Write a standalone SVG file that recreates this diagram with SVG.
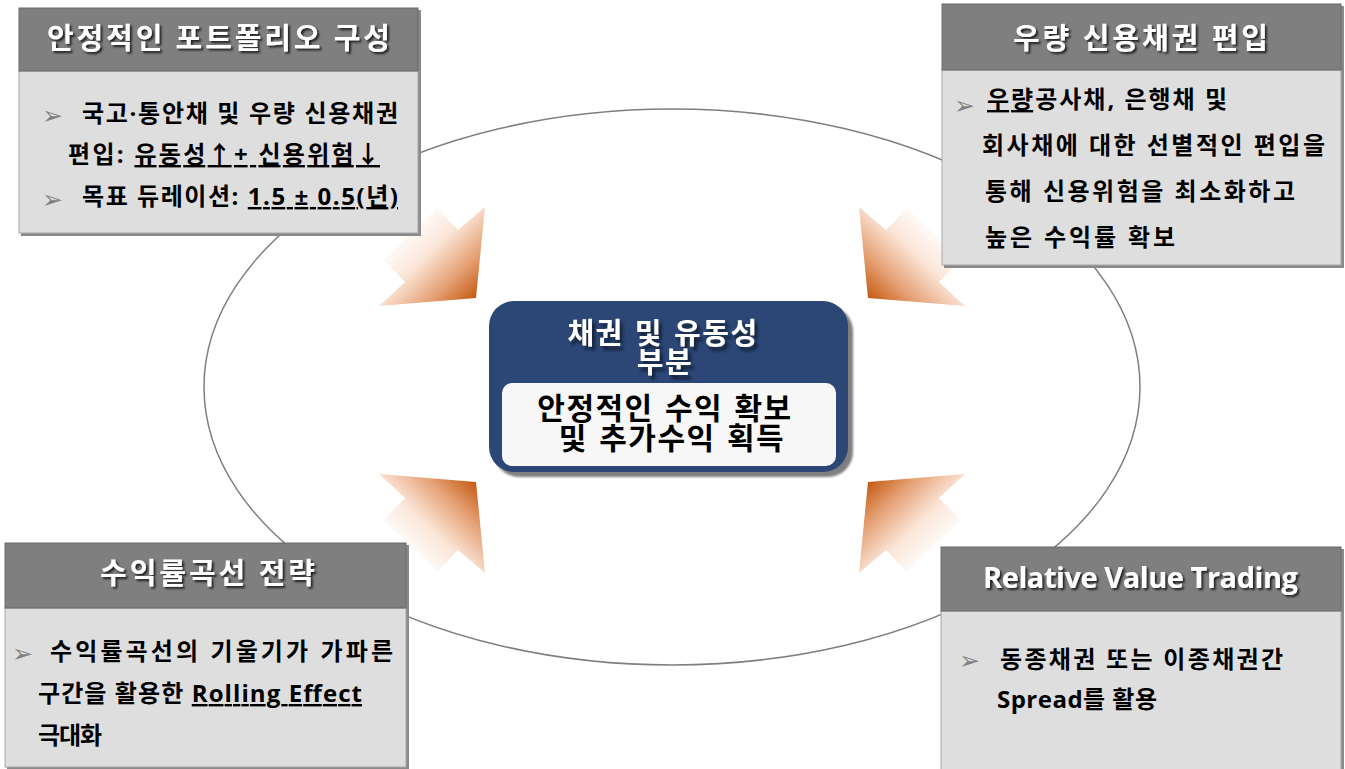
<svg xmlns="http://www.w3.org/2000/svg" width="1345" height="769" viewBox="0 0 1345 769">
<defs>
<style>
.shadow{fill:#8a8a8a}
.hdr{fill:#7f7f7f;stroke:#6a6a6a;stroke-width:1}
.body{fill:#dedede;stroke:#a8a8a8;stroke-width:1}
.htxt{font-family:"Open Sans","Noto Sans CJK KR",sans-serif;font-weight:bold;font-size:29px;fill:#ffffff;text-anchor:middle;filter:url(#ts)}
.btxt{font-family:"Open Sans","Noto Sans CJK KR",sans-serif;font-weight:bold;font-size:24px;fill:#000000}
.bul{font-family:"DejaVu Sans",sans-serif;font-size:25px;fill:#808080}
.u{text-decoration:underline}
.ctitle{font-family:"Noto Sans CJK KR",sans-serif;font-weight:bold;font-size:29px;letter-spacing:1.5px;word-spacing:3px;fill:#ffffff;text-anchor:middle;filter:url(#cs)}
.cinner{font-family:"Noto Sans CJK KR",sans-serif;font-weight:bold;font-size:30px;letter-spacing:1.5px;word-spacing:3px;fill:#000000;text-anchor:middle}
</style>
<filter id="ts" x="-10%" y="-30%" width="120%" height="160%">
<feDropShadow dx="2" dy="2" stdDeviation="1" flood-color="#000000" flood-opacity="0.75"/>
</filter>
<filter id="cs" x="-10%" y="-30%" width="130%" height="180%">
<feDropShadow dx="3" dy="4" stdDeviation="1.5" flood-color="#0d1a33" flood-opacity="0.9"/>
</filter>
<filter id="bs" x="-5%" y="-5%" width="115%" height="115%">
<feGaussianBlur stdDeviation="1.2"/>
</filter>
<linearGradient id="gTL" gradientUnits="userSpaceOnUse" x1="476" y1="298" x2="406" y2="226">
<stop offset="0" stop-color="#c55a11"/><stop offset="0.3" stop-color="#e5a075"/><stop offset="0.65" stop-color="#fbe6d8"/><stop offset="1" stop-color="#ffffff"/>
</linearGradient>
<linearGradient id="gTR" gradientUnits="userSpaceOnUse" x1="868" y1="298" x2="938" y2="226">
<stop offset="0" stop-color="#c55a11"/><stop offset="0.3" stop-color="#e5a075"/><stop offset="0.65" stop-color="#fbe6d8"/><stop offset="1" stop-color="#ffffff"/>
</linearGradient>
<linearGradient id="gBL" gradientUnits="userSpaceOnUse" x1="476" y1="482" x2="406" y2="554">
<stop offset="0" stop-color="#c55a11"/><stop offset="0.3" stop-color="#e5a075"/><stop offset="0.65" stop-color="#fbe6d8"/><stop offset="1" stop-color="#ffffff"/>
</linearGradient>
<linearGradient id="gBR" gradientUnits="userSpaceOnUse" x1="868" y1="482" x2="938" y2="554">
<stop offset="0" stop-color="#c55a11"/><stop offset="0.3" stop-color="#e5a075"/><stop offset="0.65" stop-color="#fbe6d8"/><stop offset="1" stop-color="#ffffff"/>
</linearGradient>
</defs>
<rect width="1345" height="769" fill="#ffffff"/>

<g id="ring">
<ellipse cx="672" cy="387" rx="468" ry="278" fill="none" stroke="#7f7f7f" stroke-width="1.5"/>
</g>

<g id="connectors">
<polygon fill="url(#gTL)" points="476,298 485,207 458,230 437,208 384,260 405,282 379,306"/>
<polygon fill="url(#gTR)" points="868,298 859,207 886,230 907,208 960,260 939,282 965,306"/>
<polygon fill="url(#gBL)" points="476,482 485,573 458,550 437,572 384,520 405,498 379,474"/>
<polygon fill="url(#gBR)" points="868,482 859,573 886,550 907,572 960,520 939,498 965,474"/>
</g>

<g id="node-portfolio">
<rect class="shadow" x="21" y="10" width="400" height="226"/>
<rect class="body" x="19" y="71" width="399" height="162"/>
<rect class="hdr" x="19" y="8" width="399" height="63"/>
<text class="htxt" x="218.5" y="49" textLength="343" lengthAdjust="spacing">안정적인 포트폴리오 구성</text>
<text class="bul" x="42" y="124">➢</text>
<text class="btxt" x="82" y="122" textLength="316" lengthAdjust="spacing">국고·통안채 및 우량 신용채권</text>
<text class="btxt" x="68" y="163" textLength="312" lengthAdjust="spacing">편입: <tspan class="u">유동성↑+ 신용위험↓</tspan></text>
<text class="bul" x="42" y="208">➢</text>
<text class="btxt" x="82" y="205" textLength="316" lengthAdjust="spacing">목표 듀레이션: <tspan class="u">1.5 ± 0.5(년)</tspan></text>
</g>

<g id="node-credit">
<rect class="shadow" x="944" y="6" width="400" height="262"/>
<rect class="body" x="942" y="70" width="399" height="195"/>
<rect class="hdr" x="942" y="4" width="399" height="66"/>
<text class="htxt" x="1140.5" y="49" textLength="255" lengthAdjust="spacing">우량 신용채권 편입</text>
<text class="bul" x="954" y="114">➢</text>
<text class="btxt" x="987" y="108" textLength="240" lengthAdjust="spacing"><tspan class="u">우량</tspan>공사채, 은행채 및</text>
<text class="btxt" x="982" y="154" textLength="343" lengthAdjust="spacing">회사채에 대한 선별적인 편입을</text>
<text class="btxt" x="985" y="200" textLength="310" lengthAdjust="spacing">통해 신용위험을 최소화하고</text>
<text class="btxt" x="985" y="246" textLength="190" lengthAdjust="spacing">높은 수익률 확보</text>
</g>

<g id="node-yieldcurve">
<rect class="shadow" x="7" y="545" width="402" height="226"/>
<rect class="body" x="5" y="608" width="401" height="159"/>
<rect class="hdr" x="5" y="543" width="401" height="65"/>
<text class="htxt" x="207.5" y="584" textLength="215" lengthAdjust="spacing">수익률곡선 전략</text>
<text class="bul" x="12" y="662">➢</text>
<text class="btxt" x="50" y="660" textLength="343" lengthAdjust="spacing">수익률곡선의 기울기가 가파른</text>
<text class="btxt" x="38" y="702" textLength="324" lengthAdjust="spacing">구간을 활용한 <tspan class="u">Rolling Effect</tspan></text>
<text class="btxt" x="38" y="744" textLength="64" lengthAdjust="spacing">극대화</text>
</g>

<g id="node-rvt">
<rect class="shadow" x="943" y="549" width="401" height="230"/>
<rect class="body" x="941" y="611" width="400" height="170"/>
<rect class="hdr" x="941" y="547" width="400" height="64"/>
<text class="htxt" x="1140.5" y="588" textLength="315" lengthAdjust="spacing">Relative Value Trading</text>
<text class="bul" x="959" y="669">➢</text>
<text class="btxt" x="1000" y="668" textLength="283" lengthAdjust="spacing">동종채권 또는 이종채권간</text>
<text class="btxt" x="997" y="708" textLength="160" lengthAdjust="spacing">Spread를 활용</text>
</g>

<g id="node-center">
<rect x="494" y="306" width="359" height="171" rx="25" fill="#7f7f7f" filter="url(#bs)"/>
<rect x="489" y="301" width="359" height="171" rx="25" fill="#2c4675"/>
<rect x="502" y="383" width="334" height="83" rx="10" fill="#f7f7f7"/>
<text class="ctitle"><tspan x="663" y="344">채권 및 유동성</tspan><tspan x="665" y="373">부분</tspan></text>
<text class="cinner"><tspan x="665" y="419">안정적인 수익 확보</tspan><tspan x="672" y="449">및 추가수익 획득</tspan></text>
</g>
</svg>
